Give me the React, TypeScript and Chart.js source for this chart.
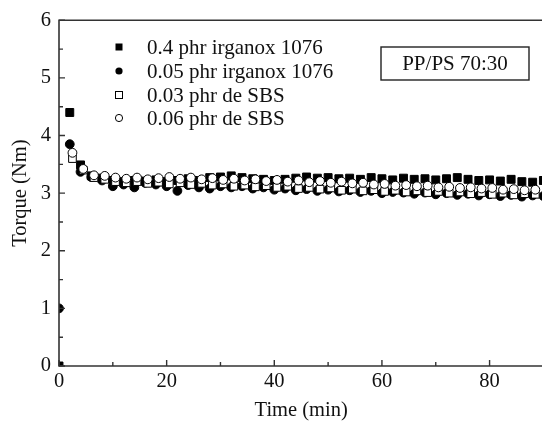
import React, { useEffect, useRef } from "react";
import { Chart, registerables } from "chart.js";

Chart.register(...registerables);

// ---- data ----
const timeIrganox = [0, 2, 4, 6, 8, 10, 12, 14, 16, 18, 20, 22, 24, 26, 28, 30, 32, 34, 36, 38, 40, 42, 44, 46, 48, 50, 52, 54, 56, 58, 60, 62, 64, 66, 68, 70, 72, 74, 76, 78, 80, 82, 84, 86, 88, 90];
const timeSBS = [2.5, 4.5, 6.5, 8.5, 10.5, 12.5, 14.5, 16.5, 18.5, 20.5, 22.5, 24.5, 26.5, 28.5, 30.5, 32.5, 34.5, 36.5, 38.5, 40.5, 42.5, 44.5, 46.5, 48.5, 50.5, 52.5, 54.5, 56.5, 58.5, 60.5, 62.5, 64.5, 66.5, 68.5, 70.5, 72.5, 74.5, 76.5, 78.5, 80.5, 82.5, 84.5, 86.5, 88.5];

const irganox04 = [0, 4.4, 3.49, 3.3, 3.26, 3.22, 3.2, 3.22, 3.21, 3.23, 3.2, 3.22, 3.25, 3.22, 3.27, 3.28, 3.3, 3.27, 3.25, 3.24, 3.22, 3.24, 3.26, 3.28, 3.26, 3.27, 3.25, 3.26, 3.24, 3.27, 3.25, 3.23, 3.26, 3.24, 3.25, 3.23, 3.25, 3.27, 3.24, 3.22, 3.23, 3.21, 3.24, 3.2, 3.19, 3.22];
const irganox005 = [1.0, 3.85, 3.37, 3.28, 3.22, 3.12, 3.15, 3.1, 3.18, 3.15, 3.12, 3.04, 3.14, 3.1, 3.08, 3.12, 3.1, 3.12, 3.08, 3.1, 3.06, 3.08, 3.05, 3.07, 3.04, 3.06, 3.03, 3.05, 3.02, 3.04, 3.0, 3.02, 3.01, 2.99, 3.01, 2.98, 3.0, 2.97, 2.99, 2.96, 2.98, 2.95, 2.97, 2.94, 2.96, 2.95];
const sbs003 = [3.6, 3.4, 3.27, 3.24, 3.2, 3.18, 3.2, 3.17, 3.19, 3.16, 3.18, 3.15, 3.17, 3.14, 3.16, 3.12, 3.14, 3.11, 3.13, 3.1, 3.12, 3.08, 3.1, 3.07, 3.09, 3.05, 3.07, 3.04, 3.06, 3.03, 3.05, 3.02, 3.04, 3.01, 3.03, 3.0, 3.02, 2.99, 3.01, 2.98, 3.0, 2.97, 2.99, 2.98];
const sbs006 = [3.7, 3.42, 3.31, 3.3, 3.27, 3.25, 3.27, 3.24, 3.26, 3.28, 3.25, 3.27, 3.24, 3.26, 3.23, 3.25, 3.22, 3.24, 3.21, 3.23, 3.2, 3.22, 3.19, 3.21, 3.18, 3.2, 3.17, 3.18, 3.15, 3.16, 3.13, 3.14, 3.12, 3.13, 3.1, 3.11, 3.09, 3.1, 3.08, 3.09, 3.06, 3.07, 3.05, 3.06];

const seriesLabels = ["0.4 phr irganox 1076", "0.05 phr irganox 1076", "0.03 phr de SBS", "0.06 phr de SBS"];
const xTicks = [0, 20, 40, 60, 80];
const yTicks = [0, 1, 2, 3, 4, 5, 6];
const xTitle = "Time (min)";
const yTitle = "Torque (Nm)";
const boxText = "PP/PS 70:30";

const FONT = "'Liberation Serif', 'Times New Roman', serif";
const INK = "#111";

const pts = (xs: number[], ys: number[]) => xs.map((x, i) => ({ x, y: ys[i] }));

const framePlugin = {
  id: "frame",
  beforeDatasetsDraw(chart: any) {
    const { ctx, chartArea: a } = chart;
    ctx.save();
    ctx.beginPath();
    ctx.rect(a.left, a.top, a.right - a.left, a.bottom - a.top);
    ctx.clip();
  },
  afterDatasetsDraw(chart: any) {
    const { ctx, chartArea: a, scales } = chart;
    ctx.restore();
    const xs = scales.x;
    const ys = scales.y;
    ctx.save();
    ctx.strokeStyle = "#333";
    ctx.lineWidth = 1.6;
    ctx.beginPath();
    ctx.rect(a.left, a.top, a.right - a.left, a.bottom - a.top);
    ctx.stroke();
    ctx.lineWidth = 1.4;
    ctx.beginPath();
    for (let v = 0; v <= 90; v += 10) {
      const px = xs.getPixelForValue(v);
      const len = v % 20 === 0 ? 6 : 4;
      ctx.moveTo(px, a.bottom);
      ctx.lineTo(px, a.bottom - len);
    }
    for (let v = 0; v <= 6; v += 0.5) {
      const py = ys.getPixelForValue(v);
      const len = Number.isInteger(v) ? 6 : 4;
      ctx.moveTo(a.left, py);
      ctx.lineTo(a.left + len, py);
    }
    ctx.stroke();
    ctx.restore();
  },
  afterDraw(chart: any) {
    const { ctx } = chart;
    ctx.save();
    // legend
    const mx = 119;
    const tx = 147;
    const rows = [47, 71, 95, 118];
    ctx.font = `21px ${FONT}`;
    ctx.textBaseline = "middle";
    ctx.textAlign = "left";
    rows.forEach((ry, i) => {
      ctx.fillStyle = INK;
      ctx.fillText(seriesLabels[i], tx, ry + 1);
      ctx.lineWidth = 1;
      ctx.strokeStyle = "#000";
      if (i === 0) {
        ctx.fillStyle = "#000";
        ctx.fillRect(mx - 3.5, ry - 3.5, 7, 7);
      } else if (i === 1) {
        ctx.fillStyle = "#000";
        ctx.beginPath();
        ctx.arc(mx, ry, 3.6, 0, Math.PI * 2);
        ctx.fill();
      } else if (i === 2) {
        ctx.fillStyle = "#fff";
        ctx.fillRect(mx - 3.5, ry - 3.5, 7, 7);
        ctx.strokeRect(mx - 3.5, ry - 3.5, 7, 7);
      } else {
        ctx.fillStyle = "#fff";
        ctx.beginPath();
        ctx.arc(mx, ry, 3.6, 0, Math.PI * 2);
        ctx.fill();
        ctx.stroke();
      }
    });
    // annotation box
    ctx.strokeStyle = "#222";
    ctx.lineWidth = 1.4;
    ctx.strokeRect(381, 47, 148, 33);
    ctx.fillStyle = INK;
    ctx.textAlign = "center";
    ctx.fillText(boxText, 455, 64);
    ctx.restore();
  },
};

export default function App() {
  const ref = useRef<HTMLCanvasElement | null>(null);

  useEffect(() => {
    if (!ref.current) return;
    const font = { family: FONT, size: 20.5 };
    const chart = new Chart(ref.current, {
      type: "scatter",
      data: {
        datasets: [
          {
            label: seriesLabels[3],
            data: pts(timeSBS, sbs006),
            pointStyle: "circle",
            pointRadius: 4.4,
            backgroundColor: "#fff",
            borderColor: "#000",
            borderWidth: 1,
            order: 0,
          },
          {
            label: seriesLabels[2],
            data: pts(timeSBS, sbs003),
            pointStyle: "rect",
            pointRadius: 5.4,
            backgroundColor: "#fff",
            borderColor: "#000",
            borderWidth: 1,
            order: 1,
          },
          {
            label: seriesLabels[1],
            data: pts(timeIrganox, irganox005),
            pointStyle: "circle",
            pointRadius: 4.4,
            backgroundColor: "#000",
            borderColor: "#000",
            borderWidth: 1,
            order: 2,
          },
          {
            label: seriesLabels[0],
            data: pts(timeIrganox, irganox04),
            pointStyle: "rect",
            pointRadius: 5.6,
            backgroundColor: "#000",
            borderColor: "#000",
            borderWidth: 1,
            order: 3,
          },
        ],
      },
      options: {
        responsive: false,
        animation: false,
        layout: { padding: { top: 17, right: 5.5, left: 0, bottom: 0 } },
        plugins: { legend: { display: false }, tooltip: { enabled: false } },
        scales: {
          x: {
            type: "linear",
            min: 0,
            max: 90,
            afterBuildTicks: (s: any) => {
              s.ticks = xTicks.map((v) => ({ value: v }));
            },
            afterFit: (s: any) => {
              s.height = 57;
            },
            grid: { display: false, drawTicks: false },
            border: { display: false },
            ticks: { font, color: INK, padding: 3, maxRotation: 0, autoSkip: false },
            title: { display: true, text: xTitle, font, color: INK, padding: { top: 0, bottom: 0 } },
          },
          y: {
            type: "linear",
            min: 0,
            max: 6,
            afterBuildTicks: (s: any) => {
              s.ticks = yTicks.map((v) => ({ value: v }));
            },
            afterFit: (s: any) => {
              s.width = 59;
            },
            grid: { display: false, drawTicks: false },
            border: { display: false },
            ticks: { font, color: INK, padding: 8, autoSkip: false },
            title: { display: true, text: yTitle, font, color: INK, padding: { top: 8, bottom: 0 } },
          },
        },
      },
      plugins: [framePlugin],
    } as any);
    return () => chart.destroy();
  }, []);

  return (
    <div
      style={{
        position: "fixed",
        left: 0,
        top: 0,
        width: 542,
        height: 423,
        overflow: "hidden",
        background: "#fff",
      }}
    >
      <canvas ref={ref} width={550} height={423} style={{ display: "block", width: 550, height: 423 }} />
    </div>
  );
}
